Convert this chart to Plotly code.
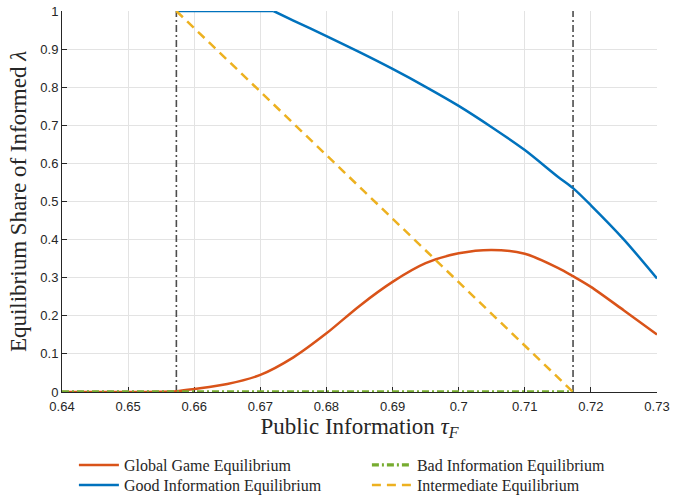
import plotly.graph_objects as go

# ---------------- data ----------------
tau_global = [0.640, 0.650, 0.6573, 0.660, 0.665, 0.670, 0.675, 0.680, 0.685, 0.690,
              0.695, 0.700, 0.705, 0.710, 0.715, 0.7173, 0.720, 0.725, 0.730]
lam_global = [0.000, 0.000, 0.002, 0.008, 0.021, 0.045, 0.091, 0.154, 0.226, 0.289,
              0.338, 0.364, 0.373, 0.363, 0.326, 0.304, 0.276, 0.214, 0.151]

tau_good_flat = [0.6573, 0.672]
lam_good_flat = [1.0, 1.0]
tau_good = [0.672, 0.675, 0.680, 0.685, 0.690, 0.695, 0.700, 0.705, 0.710, 0.715,
            0.7173, 0.720, 0.725, 0.730]
lam_good = [1.000, 0.975, 0.934, 0.892, 0.848, 0.801, 0.751, 0.695, 0.635, 0.565,
            0.535, 0.490, 0.400, 0.298]

tau_bad = [0.640, 0.7173]
lam_bad = [0.0, 0.0]

tau_inter = [0.6573, 0.7173]
lam_inter = [1.0, 0.0]

threshold_x = [0.6573, 0.7173]
threshold_y = [0.0, 1.0]

x_ticks = [0.64, 0.65, 0.66, 0.67, 0.68, 0.69, 0.70, 0.71, 0.72, 0.73]
x_tick_labels = ["0.64", "0.65", "0.66", "0.67", "0.68", "0.69", "0.7", "0.71", "0.72", "0.73"]
y_ticks = [0, 0.1, 0.2, 0.3, 0.4, 0.5, 0.6, 0.7, 0.8, 0.9, 1.0]
y_tick_labels = ["0", "0.1", "0.2", "0.3", "0.4", "0.5", "0.6", "0.7", "0.8", "0.9", "1"]

names = ["Global Game Equilibrium", "Good Information Equilibrium",
         "Bad Information Equilibrium", "Intermediate Equilibrium"]

# ---------------- styles ----------------
BLUE = "#0072BD"
ORANGE = "#D95319"
YELLOW = "#EDB120"
GREEN = "#77AC30"
AXIS = "#262626"
SERIF = "Liberation Serif"
SANS = "Liberation Sans"

fig = go.Figure()

# vertical threshold lines
for xv in threshold_x:
    fig.add_trace(go.Scatter(x=[xv, xv], y=threshold_y, mode="lines",
                             line=dict(color="#4d4d4d", width=1.6, dash="7px,3px,2px,3px"),
                             showlegend=False, hoverinfo="skip", cliponaxis=False,
                             legend="legend"))

fig.add_trace(go.Scatter(x=tau_global, y=lam_global, mode="lines", name=names[0],
                         line=dict(color=ORANGE, width=2.5, shape="spline", smoothing=0.8),
                         legend="legend", legendrank=1, cliponaxis=False))
fig.add_trace(go.Scatter(x=tau_good_flat, y=lam_good_flat, mode="lines", name=names[1],
                         line=dict(color=BLUE, width=2.5),
                         showlegend=False, legend="legend2", cliponaxis=False))
fig.add_trace(go.Scatter(x=tau_good, y=lam_good, mode="lines", name=names[1],
                         line=dict(color=BLUE, width=2.5, shape="spline", smoothing=0.8),
                         legend="legend2", legendrank=1, cliponaxis=False))
fig.add_trace(go.Scatter(x=tau_bad, y=lam_bad, mode="lines", name=names[2],
                         line=dict(color=GREEN, width=3.4, dash="7px,3px,2px,3px"),
                         legend="legend", legendrank=2, cliponaxis=False))
fig.add_trace(go.Scatter(x=tau_inter, y=lam_inter, mode="lines", name=names[3],
                         line=dict(color=YELLOW, width=2.5, dash="9px,6px"),
                         legend="legend2", legendrank=2, cliponaxis=False))

legend_style = dict(orientation="h", x=0.02, xanchor="left", yanchor="top",
                    font=dict(family=SERIF, size=16, color=AXIS),
                    entrywidth=238, entrywidthmode="pixels", traceorder="normal",
                    bgcolor="rgba(0,0,0,0)", tracegroupgap=0, itemwidth=40)

fig.update_layout(
    width=673, height=495,
    margin=dict(l=62, r=16, t=11, b=103, autoexpand=False),
    paper_bgcolor="white", plot_bgcolor="white",
    font=dict(family=SANS, size=13, color=AXIS),
    showlegend=True,
    legend=dict(legend_style, y=-0.147),
    legend2=dict(legend_style, y=-0.200),
)

fig.update_xaxes(
    range=[0.64, 0.73], tickvals=x_ticks, ticktext=x_tick_labels,
    showgrid=True, gridcolor="#e3e3e3", gridwidth=1, zeroline=False,
    showline=True, linecolor=AXIS, linewidth=1, mirror=False, automargin=False,
    ticks="inside", ticklen=5, tickcolor=AXIS, layer="below traces",
    ticklabelstandoff=2,
    tickfont=dict(family=SANS, size=13, color=AXIS),
    title=dict(text="Public Information <i>τ</i><sub><i>F</i></sub>",
               font=dict(family=SERIF, size=23, color=AXIS), standoff=4),
)
fig.update_yaxes(
    range=[0, 1], tickvals=y_ticks, ticktext=y_tick_labels,
    showgrid=True, gridcolor="#e3e3e3", gridwidth=1, zeroline=False,
    showline=True, linecolor=AXIS, linewidth=1, mirror=False, automargin=False,
    ticks="inside", ticklen=5, tickcolor=AXIS, layer="below traces",
    tickfont=dict(family=SANS, size=13, color=AXIS),
    title=dict(text="Equilibrium Share of Informed <i>λ</i>",
               font=dict(family=SERIF, size=23, color=AXIS), standoff=7),
)

fig.write_html("out.html", config={"displayModeBar": False},
               post_script="document.body.style.margin='0px';")
